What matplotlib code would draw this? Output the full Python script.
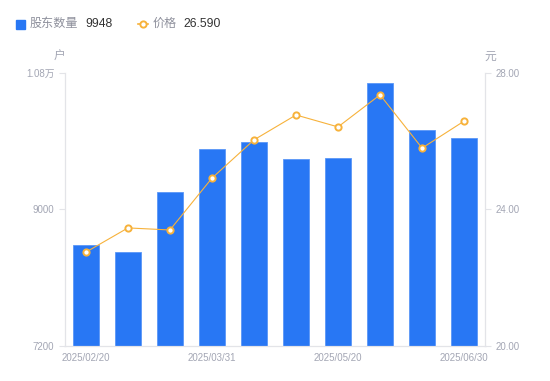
import matplotlib
matplotlib.use("Agg")
import matplotlib.pyplot as plt

plt.rcParams['font.family'] = ['Liberation Sans', 'Noto Sans CJK SC', 'DejaVu Sans']

dates = ['2025/02/20', '2025/02/28', '2025/03/10', '2025/03/31', '2025/04/10',
         '2025/04/30', '2025/05/20', '2025/05/31', '2025/06/10', '2025/06/30']
holders = [8532, 8440, 9231, 9798, 9890, 9666, 9679, 10668, 10048, 9948]
prices = [22.75, 23.46, 23.40, 24.92, 26.04, 26.77, 26.42, 27.36, 25.80, 26.59]
shown_dates = ['2025/02/20', '2025/03/31', '2025/05/20', '2025/06/30']

blue = '#2877f4'
orange = '#f7b23b'
grey = '#a3a6b4'
axis_col = '#e3e4e8'

fig = plt.figure(figsize=(5.5, 3.81), dpi=100)
ax = fig.add_axes([0.118, 0.0919, 0.764, 0.7165])
ax2 = ax.twinx()

x = list(range(len(dates)))
ax.bar(x, holders, width=0.62, color=blue, edgecolor='#5a97f7', linewidth=0.6, zorder=2)
ax.set_xlim(-0.5, len(dates) - 0.5)
ax.set_ylim(7200, 10800)
ax.set_yticks([7200, 9000, 10800])
ax.set_yticklabels(['7200', '9000', '1.08万'])

ax2.plot(x, prices, color=orange, linewidth=0.8, marker='o', markersize=4.5,
         markerfacecolor='white', markeredgecolor=orange, markeredgewidth=1.4, zorder=3)
ax2.set_ylim(20, 28)
ax2.set_yticks([20, 24, 28])
ax2.set_yticklabels(['20.00', '24.00', '28.00'])

ax.set_xticks([dates.index(d) for d in shown_dates])
ax.set_xticklabels(shown_dates)

for a in (ax, ax2):
    for s in a.spines.values():
        s.set_color(axis_col)
    a.spines['top'].set_visible(False)
    a.tick_params(colors=grey, labelsize=7, length=4, width=0.8)
    a.tick_params(axis='y', colors=axis_col, labelcolor=grey)
ax.tick_params(axis='x', length=0, pad=5, labelcolor=grey)

fig.text(59 / 550, 1 - 57 / 381, '户', color=grey, fontsize=8.5, ha='center', va='center')
fig.text(490 / 550, 1 - 57 / 381, '元', color=grey, fontsize=8.5, ha='center', va='center')

# legend row
fig.patches.append(plt.Rectangle((16 / 550, 1 - 29 / 381), 9 / 550, 9 / 381,
                                 transform=fig.transFigure, color=blue, figure=fig))
fig.text(30 / 550, 1 - 24 / 381, '股东数量', color='#8e909c', fontsize=8.7, va='center')
fig.text(85 / 550, 1 - 24 / 381, '%d' % holders[-1], color='#333333', fontsize=8.7, va='center')
fig.lines.append(plt.Line2D([138 / 550, 148 / 550], [1 - 24 / 381, 1 - 24 / 381],
                            transform=fig.transFigure, color=orange, linewidth=1.2))
fig.lines.append(plt.Line2D([143 / 550], [1 - 24 / 381], transform=fig.transFigure,
                            color=orange, marker='o', markersize=4.5,
                            markerfacecolor='white', markeredgewidth=1.4))
fig.text(153 / 550, 1 - 24 / 381, '价格', color='#8e909c', fontsize=8.7, va='center')
fig.text(183 / 550, 1 - 24 / 381, '%.3f' % prices[-1], color='#333333', fontsize=8.7, va='center')

fig.savefig('out.png', dpi=100)
